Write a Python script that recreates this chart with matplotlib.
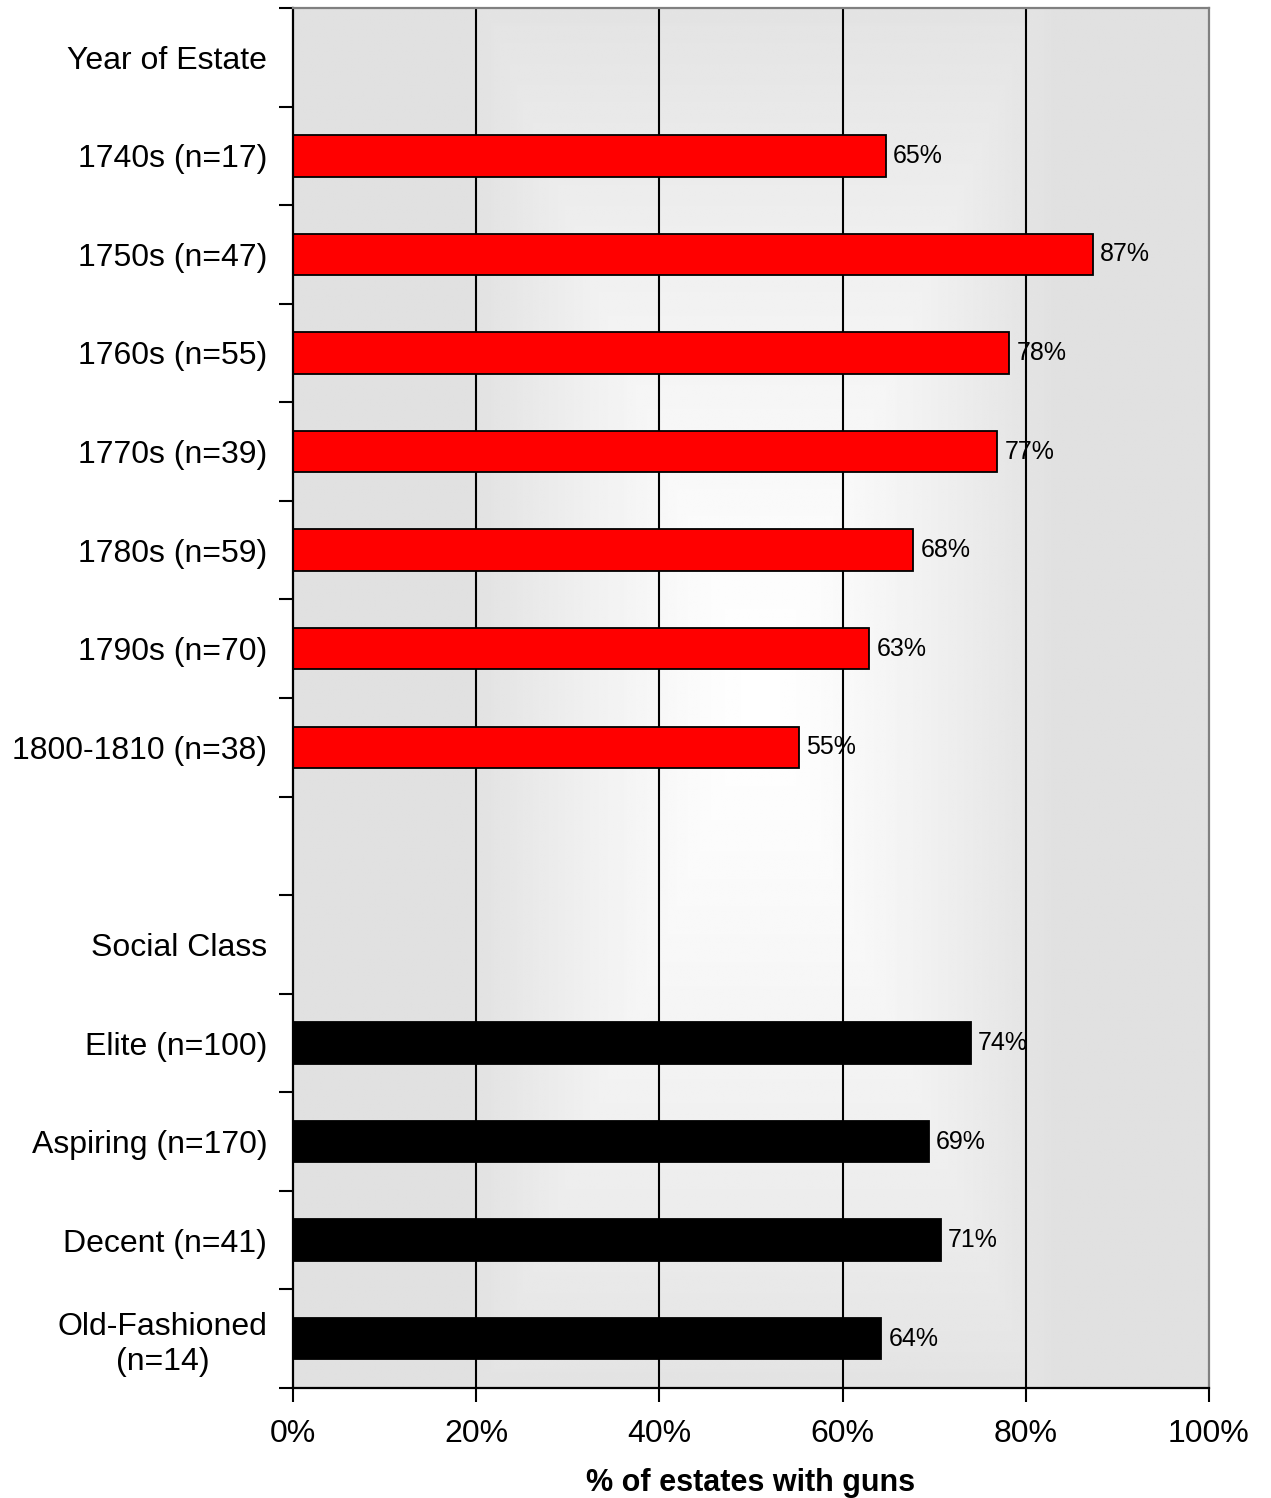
import numpy as np
import matplotlib.pyplot as plt

plt.rcParams['font.family'] = ['Liberation Sans', 'DejaVu Sans']

# categories from top to bottom ('' = blank row, headers have no bar)
labels = ['Year of Estate', '1740s (n=17)', '1750s (n=47)', '1760s (n=55)',
          '1770s (n=39)', '1780s (n=59)', '1790s (n=70)', '1800-1810 (n=38)',
          '', 'Social Class', 'Elite (n=100)', 'Aspiring (n=170)',
          'Decent (n=41)', 'Old-Fashioned\n(n=14)']
values = [None, 64.7, 87.3, 78.2, 76.9, 67.7, 62.9, 55.2,
          None, None, 74.0, 69.4, 70.7, 64.2]
value_labels = ['', '65%', '87%', '78%', '77%', '68%', '63%', '55%',
                '', '', '74%', '69%', '71%', '64%']
bar_colors = ['none', 'red', 'red', 'red', 'red', 'red', 'red', 'red',
              'none', 'none', 'black', 'black', 'black', 'black']
xticks = [0, 20, 40, 60, 80, 100]

fig = plt.figure(figsize=(12.71, 14.98), dpi=100)
ax = fig.add_axes([0.2305, 0.0734, 0.7207, 0.9213])

n = len(labels)
ax.set_xlim(0, 100)
ax.set_ylim(n - 0.5, -0.5)

# background: rectangular gradient, white in the middle, gray at edges
gx = np.linspace(-1, 1, 400)
gy = np.linspace(-1, 1, 400)
GX, GY = np.meshgrid(gx, gy)
d = np.clip(np.maximum(np.abs(GX - 0.02), np.abs(GY) * 0.6) / 0.64, 0, 1)
shade = 1.0 - d ** 1.3 * (1.0 - 0.882)
ax.imshow(shade, cmap='gray', vmin=0, vmax=1, extent=[0, 100, n - 0.5, -0.5],
          aspect='auto', zorder=0, interpolation='bilinear')

for x in [20, 40, 60, 80]:
    ax.axvline(x, color='black', lw=1.5, zorder=1)

for i, v in enumerate(values):
    if v is None:
        continue
    ax.barh(i, v, height=0.42, color=bar_colors[i], edgecolor='black',
            linewidth=1.3, zorder=2)
    ax.text(v + 0.8, i, value_labels[i], va='center', ha='left',
            fontsize=18, zorder=3)

ax.set_yticks(np.arange(n + 1) - 0.5, minor=False)
ax.set_yticklabels([])
ax.set_yticks(np.arange(n), minor=True)
ax.set_yticklabels(labels, minor=True, fontsize=23)
for t in ax.get_yticklabels(minor=True):
    t.set_multialignment('center')
ax.tick_params(axis='y', which='major', length=10, width=1.5, direction='out')
ax.tick_params(axis='y', which='minor', length=0, pad=18.5)

ax.set_xticks(xticks)
ax.set_xticklabels([f'{x}%' for x in xticks], fontsize=23)
ax.tick_params(axis='x', length=10, width=1.5, direction='out', pad=12)
ax.set_xlabel('% of estates with guns', fontsize=22, fontweight='bold',
              labelpad=14)

ax.spines['left'].set_linewidth(1.6)
ax.spines['bottom'].set_linewidth(1.6)
ax.spines['top'].set_color('#808080')
ax.spines['right'].set_color('#808080')
ax.spines['top'].set_linewidth(1.6)
ax.spines['right'].set_linewidth(1.6)

fig.savefig('out.png', dpi=100)
